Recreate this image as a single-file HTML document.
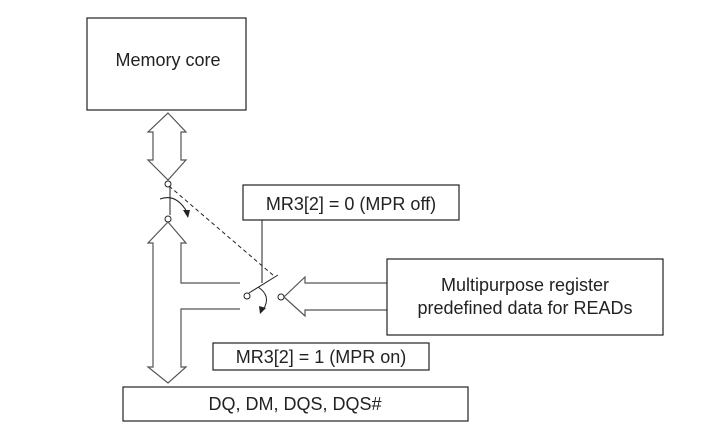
<!DOCTYPE html>
<html><head><style>
body{margin:0;background:#fff;}
svg text{font-family:"Liberation Sans",sans-serif;fill:#222;font-size:18px;}
</style></head><body>
<svg width="719" height="432" viewBox="0 0 719 432" xmlns="http://www.w3.org/2000/svg">
<rect x="87" y="18" width="159" height="92" fill="#fff" stroke="#222" stroke-width="1.2"/>
<text x="168" y="66" text-anchor="middle">Memory core</text>
<polygon points="168,113 186,132 181,132 181,160 186,160 168,180 148,160 153,160 153,132 148,132" fill="#fff" stroke="#555" stroke-width="1.2"/>
<circle cx="168" cy="184" r="3" fill="#fff" stroke="#222"/>
<circle cx="168" cy="219" r="3" fill="#fff" stroke="#222"/>
<line x1="170" y1="187" x2="170" y2="215" stroke="#222"/>
<path d="M160,199 Q176,193 187,212" fill="none" stroke="#222"/>
<polygon points="183,210 190,210 188,218" fill="#222"/>
<line x1="169" y1="186" x2="274" y2="276" stroke="#222" stroke-dasharray="4,3"/>
<polyline points="240,283 181,283 181,243 186,243 168,222 148,243 153,243 153,367 148,367 168,383 186,367 181,367 181,309 240,309" fill="none" stroke="#555" stroke-width="1.2"/>
<circle cx="247" cy="296" r="3" fill="#fff" stroke="#222"/>
<line x1="249" y1="293" x2="278" y2="275" stroke="#222"/>
<line x1="262" y1="220" x2="262" y2="283" stroke="#222"/>
<path d="M258,287 Q272,296 263,310" fill="none" stroke="#222"/>
<polygon points="259,306 266,308 260,314" fill="#222"/>
<circle cx="281" cy="297" r="3" fill="#fff" stroke="#222"/>
<polyline points="387,283 305,283 305,277 284,297 305,316 305,310 387,310" fill="none" stroke="#555" stroke-width="1.2"/>
<rect x="243" y="185" width="216" height="35" fill="#fff" stroke="#222" stroke-width="1.2"/>
<text x="351" y="210" text-anchor="middle">MR3[2] = 0 (MPR off)</text>
<rect x="387" y="259" width="276" height="76" fill="#fff" stroke="#222" stroke-width="1.2"/>
<text x="525" y="291" text-anchor="middle">Multipurpose register</text>
<text x="525" y="314" text-anchor="middle">predefined data for READs</text>
<rect x="213" y="343" width="216" height="27" fill="#fff" stroke="#222" stroke-width="1.2"/>
<text x="321" y="363" text-anchor="middle">MR3[2] = 1 (MPR on)</text>
<rect x="123" y="387" width="345" height="34" fill="#fff" stroke="#222" stroke-width="1.2"/>
<text x="295" y="410" text-anchor="middle">DQ, DM, DQS, DQS#</text>
</svg>
</body></html>
